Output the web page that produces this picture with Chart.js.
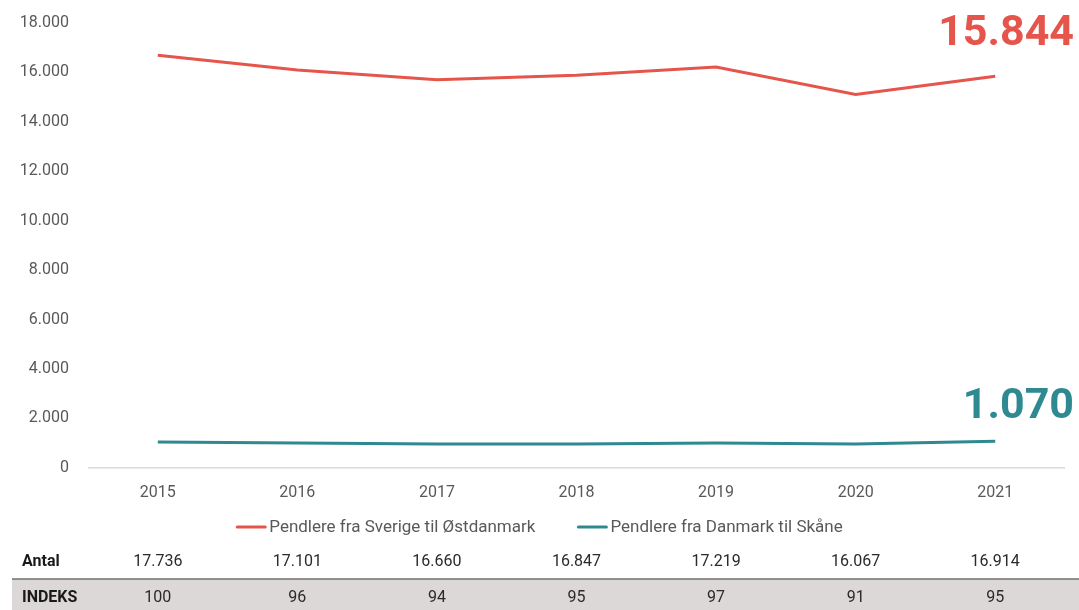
<!DOCTYPE html>
<html lang="da">
<head>
<meta charset="utf-8">
<title>Pendlere over Øresund</title>
<script src="https://cdn.jsdelivr.net/npm/chart.js@4/dist/chart.umd.min.js"></script>
<style>
  html, body { margin: 0; padding: 0; background: #fff; }
  #wrap { position: relative; width: 1079px; height: 610px; }
</style>
</head>
<body>
<div id="wrap"><canvas id="chart" width="1079" height="610"></canvas></div>
<script>
// Data
const years = ['2015', '2016', '2017', '2018', '2019', '2020', '2021'];
const fromSweden = [16696, 16101, 15700, 15887, 16219, 15107, 15844];
const fromDenmark = [1040, 1000, 960, 960, 1000, 960, 1070];
const antal = [17736, 17101, 16660, 16847, 17219, 16067, 16914];
const indeks = [100, 96, 94, 95, 97, 91, 95];

const RED = '#e5554b';
const TEAL = '#2e8a90';
const FONT = 'Roboto, "Noto Sans", sans-serif';

// danish thousands separator
const fmt = v => String(Math.round(v)).replace(/\B(?=(\d{3})+(?!\d))/g, '.');

// legend, table under the chart and the big end-value labels
const extras = {
  id: 'extras',
  afterDraw(chart) {
    const { ctx } = chart;
    const x = chart.scales.x;
    const W = chart.width;

    ctx.save();
    // big labels
    ctx.textAlign = 'right';
    ctx.textBaseline = 'alphabetic';
    ctx.font = 'bold 43px ' + FONT;
    ctx.fillStyle = RED;
    ctx.fillText(fmt(fromSweden[fromSweden.length - 1]), 1074, 45);
    ctx.fillStyle = TEAL;
    ctx.fillText(fmt(fromDenmark[fromDenmark.length - 1]), 1074, 418);

    // legend
    const ds = chart.data.datasets;
    ctx.font = '17px ' + FONT;
    const sw = 30, gap = 3, between = 42;
    const widths = ds.map(d => sw + gap + ctx.measureText(d.label).width);
    const total = widths.reduce((a, b) => a + b, 0) + between * (ds.length - 1);
    let lx = W / 2 - total / 2;
    ctx.textAlign = 'left';
    ctx.textBaseline = 'middle';
    ds.forEach((d, i) => {
      ctx.strokeStyle = d.borderColor;
      ctx.lineWidth = 3;
      ctx.lineCap = 'round';
      ctx.beginPath();
      ctx.moveTo(lx + 1, 527);
      ctx.lineTo(lx + sw - 1, 527);
      ctx.stroke();
      ctx.fillStyle = '#595959';
      ctx.fillText(d.label, lx + sw + gap, 528);
      lx += widths[i] + between;
    });

    // INDEKS row background
    ctx.fillStyle = '#dbd8d7';
    ctx.fillRect(12, 579, W - 12, 31);
    ctx.strokeStyle = '#707070';
    ctx.lineWidth = 1.5;
    ctx.lineCap = 'butt';
    ctx.beginPath();
    ctx.moveTo(12, 579);
    ctx.lineTo(W, 579);
    ctx.stroke();

    ctx.textBaseline = 'middle';
    ctx.textAlign = 'left';
    ctx.fillStyle = '#1a1a1a';
    ctx.font = 'bold 16px ' + FONT;
    ctx.fillText('Antal', 22, 562);
    ctx.fillText('INDEKS', 22, 598);

    ctx.textAlign = 'center';
    ctx.font = '16px ' + FONT;
    ctx.fillStyle = '#2a2a2a';
    years.forEach((y, i) => {
      const px = x.getPixelForValue(i);
      ctx.fillText(fmt(antal[i]), px, 562);
      ctx.fillText(String(indeks[i]), px, 598);
    });
    ctx.restore();
  }
};

new Chart(document.getElementById('chart'), {
  type: 'line',
  data: {
    labels: years,
    datasets: [
      {
        label: 'Pendlere fra Sverige til Østdanmark',
        data: fromSweden,
        borderColor: RED,
        backgroundColor: RED,
        borderWidth: 3,
        pointRadius: 0,
        tension: 0,
      },
      {
        label: 'Pendlere fra Danmark til Skåne',
        data: fromDenmark,
        borderColor: TEAL,
        backgroundColor: TEAL,
        borderWidth: 3,
        pointRadius: 0,
        tension: 0,
      },
    ],
  },
  options: {
    responsive: false,
    animation: false,
    layout: { padding: { top: 23, right: 14, bottom: 99, left: 0 } },
    plugins: {
      legend: { display: false },
      tooltip: { enabled: false },
    },
    scales: {
      x: {
        offset: true,
        grid: { display: false },
        border: { display: false },
        ticks: { color: '#595959', font: { family: FONT, size: 16 }, padding: 8 },
      },
      y: {
        min: 0,
        max: 18000,
        afterFit: s => { s.width = 88; s.paddingTop = 0; s.paddingBottom = 0; },
        border: { display: false },
        grid: {
          drawTicks: false,
          lineWidth: 1.5,
          color: c => (c.tick && c.tick.value === 0 ? '#d9d9d9' : 'transparent'),
        },
        ticks: {
          stepSize: 2000,
          padding: 19,
          color: '#595959',
          font: { family: FONT, size: 16 },
          callback: v => fmt(v),
        },
      },
    },
  },
  plugins: [extras],
});
</script>
</body>
</html>
